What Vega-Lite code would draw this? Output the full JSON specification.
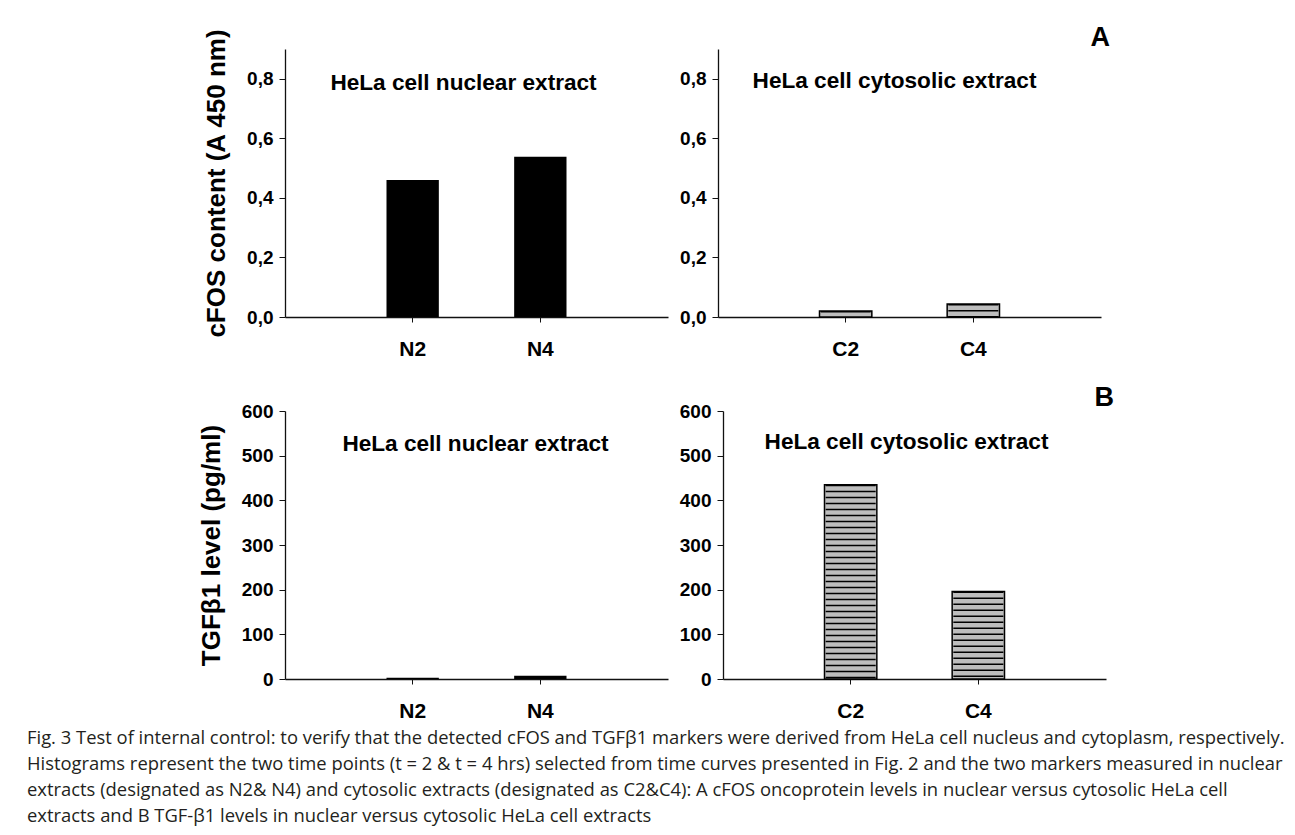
{
  "$schema": "https://vega.github.io/schema/vega-lite/v6.json",
  "background": "white",
  "padding": {"left": 27, "top": 24, "right": 5, "bottom": 5},
  "datasets": {
    "cfos": [
      {"sample": "N2", "fraction": "nuclear", "value": 0.46},
      {"sample": "N4", "fraction": "nuclear", "value": 0.538},
      {"sample": "C2", "fraction": "cytosolic", "value": 0.02},
      {"sample": "C4", "fraction": "cytosolic", "value": 0.044}
    ],
    "tgf": [
      {"sample": "N2", "fraction": "nuclear", "value": 3},
      {"sample": "N4", "fraction": "nuclear", "value": 7},
      {"sample": "C2", "fraction": "cytosolic", "value": 435},
      {"sample": "C4", "fraction": "cytosolic", "value": 196}
    ]
  },
  "title": {
    "text": [
      "Fig. 3  Test of internal control: to verify that the detected cFOS and TGFβ1 markers were derived from HeLa cell nucleus and cytoplasm, respectively.",
      "Histograms represent the two time points (t = 2 & t = 4 hrs) selected from time curves presented in Fig. 2 and the two markers measured in nuclear",
      "extracts (designated as N2& N4) and cytosolic extracts (designated as C2&C4): A cFOS oncoprotein levels in nuclear versus cytosolic HeLa cell",
      "extracts and B TGF-β1 levels in nuclear versus cytosolic HeLa cell extracts"
    ],
    "orient": "bottom",
    "anchor": "start",
    "frame": "group",
    "font": "Open Sans",
    "fontSize": 18.4,
    "fontWeight": "normal",
    "color": "#231f20",
    "lineHeight": 26,
    "offset": 8,
    "dx": -258
  },
  "spacing": 25,
  "vconcat": [
    {
      "title": {"text": "A", "anchor": "end", "font": "Liberation Sans", "fontSize": 27, "fontWeight": "bold", "color": "black", "dx": 9, "offset": -24},
      "spacing": 11,
      "hconcat": [
        {
          "width": 383,
          "height": 268,
          "layer": [
            {
              "data": {"name": "cfos"},
              "transform": [{"filter": "datum.fraction === 'nuclear'"}],
              "mark": {"type": "bar", "color": "black"},
              "encoding": {
                "x": {"field": "sample", "type": "nominal", "title": null, "scale": {"paddingInner": 0.59, "paddingOuter": 0.795}},
                "y": {"field": "value", "type": "quantitative", "title": "cFOS content (A 450 nm)", "scale": {"domain": [0, 0.9], "nice": false},
                  "axis": {"values": [0, 0.2, 0.4, 0.6, 0.8], "labelExpr": "replace(format(datum.value, '.1f'), '.', ',')"}}
              }
            },
            {
              "data": {"values": [{"label": "HeLa cell nuclear extract"}]},
              "mark": {"type": "text", "font": "Liberation Sans", "fontSize": 22.6, "fontWeight": "bold", "color": "black", "baseline": "middle", "dx": -13},
              "encoding": {
                "text": {"field": "label"},
                "y": {"datum": 0.787, "type": "quantitative"}
              }
            }
          ]
        },
        {
          "width": 383,
          "height": 268,
          "layer": [
            {
              "data": {"name": "cfos"},
              "transform": [{"filter": "datum.fraction === 'cytosolic'"}],
              "mark": {"type": "bar", "fill": "#bdbdbd", "stroke": "black", "strokeWidth": 1.5},
              "encoding": {
                "x": {"field": "sample", "type": "nominal", "title": null, "scale": {"paddingInner": 0.59, "paddingOuter": 0.795}},
                "y": {"field": "value", "type": "quantitative", "title": null, "scale": {"domain": [0, 0.9], "nice": false},
                  "axis": {"values": [0, 0.2, 0.4, 0.6, 0.8], "labelExpr": "replace(format(datum.value, '.1f'), '.', ',')"}}
              }
            },
            {
              "data": {"name": "cfos"},
              "transform": [{"filter": "datum.fraction === 'cytosolic'"}],
              "mark": {"type": "rule", "strokeWidth": 50, "strokeDash": [1.5, 4.5], "strokeCap": "butt", "color": "black"},
              "encoding": {
                "x": {"field": "sample", "type": "nominal"},
                "y": {"field": "value", "type": "quantitative"},
                "y2": {"datum": 0}
              }
            },
            {
              "data": {"values": [{"label": "HeLa cell cytosolic extract"}]},
              "mark": {"type": "text", "font": "Liberation Sans", "fontSize": 22.6, "fontWeight": "bold", "color": "black", "baseline": "middle", "dx": -15},
              "encoding": {
                "text": {"field": "label"},
                "y": {"datum": 0.793, "type": "quantitative"}
              }
            }
          ]
        }
      ]
    },
    {
      "title": {"text": "B", "anchor": "end", "font": "Liberation Sans", "fontSize": 27, "fontWeight": "bold", "color": "black", "dx": 8, "offset": -10},
      "spacing": 11,
      "hconcat": [
        {
          "width": 383,
          "height": 268,
          "layer": [
            {
              "data": {"name": "tgf"},
              "transform": [{"filter": "datum.fraction === 'nuclear'"}],
              "mark": {"type": "bar", "color": "black"},
              "encoding": {
                "x": {"field": "sample", "type": "nominal", "title": null, "scale": {"paddingInner": 0.59, "paddingOuter": 0.795}},
                "y": {"field": "value", "type": "quantitative", "title": "TGFβ1 level (pg/ml)", "scale": {"domain": [0, 600], "nice": false},
                  "axis": {"values": [0, 100, 200, 300, 400, 500, 600]}}
              }
            },
            {
              "data": {"values": [{"label": "HeLa cell nuclear extract"}]},
              "mark": {"type": "text", "font": "Liberation Sans", "fontSize": 22.6, "fontWeight": "bold", "color": "black", "baseline": "middle", "dx": -1},
              "encoding": {
                "text": {"field": "label"},
                "y": {"datum": 526, "type": "quantitative"}
              }
            }
          ]
        },
        {
          "width": 383,
          "height": 268,
          "layer": [
            {
              "data": {"name": "tgf"},
              "transform": [{"filter": "datum.fraction === 'cytosolic'"}],
              "mark": {"type": "bar", "fill": "#bdbdbd", "stroke": "black", "strokeWidth": 1.5},
              "encoding": {
                "x": {"field": "sample", "type": "nominal", "title": null, "scale": {"paddingInner": 0.59, "paddingOuter": 0.795}},
                "y": {"field": "value", "type": "quantitative", "title": null, "scale": {"domain": [0, 600], "nice": false},
                  "axis": {"values": [0, 100, 200, 300, 400, 500, 600]}}
              }
            },
            {
              "data": {"name": "tgf"},
              "transform": [{"filter": "datum.fraction === 'cytosolic'"}],
              "mark": {"type": "rule", "strokeWidth": 50, "strokeDash": [1.5, 4.5], "strokeCap": "butt", "color": "black"},
              "encoding": {
                "x": {"field": "sample", "type": "nominal"},
                "y": {"field": "value", "type": "quantitative"},
                "y2": {"datum": 0}
              }
            },
            {
              "data": {"values": [{"label": "HeLa cell cytosolic extract"}]},
              "mark": {"type": "text", "font": "Liberation Sans", "fontSize": 22.6, "fontWeight": "bold", "color": "black", "baseline": "middle", "dx": -8},
              "encoding": {
                "text": {"field": "label"},
                "y": {"datum": 530, "type": "quantitative"}
              }
            }
          ]
        }
      ]
    }
  ],
  "config": {
    "view": {"stroke": null},
    "axis": {
      "grid": false,
      "domainColor": "#111",
      "domainWidth": 1.3,
      "tickColor": "#111",
      "labelFont": "Liberation Sans",
      "labelFontWeight": "bold",
      "labelColor": "black",
      "titleFont": "Liberation Sans",
      "titleFontWeight": "bold",
      "titleColor": "black"
    },
    "axisY": {
      "labelFontSize": 19,
      "tickSize": 6,
      "labelPadding": 6,
      "titleFontSize": 26,
      "titlePadding": 17
    },
    "axisX": {
      "labelFontSize": 21,
      "labelAngle": 0,
      "tickSize": 5,
      "labelPadding": 16
    }
  }
}
